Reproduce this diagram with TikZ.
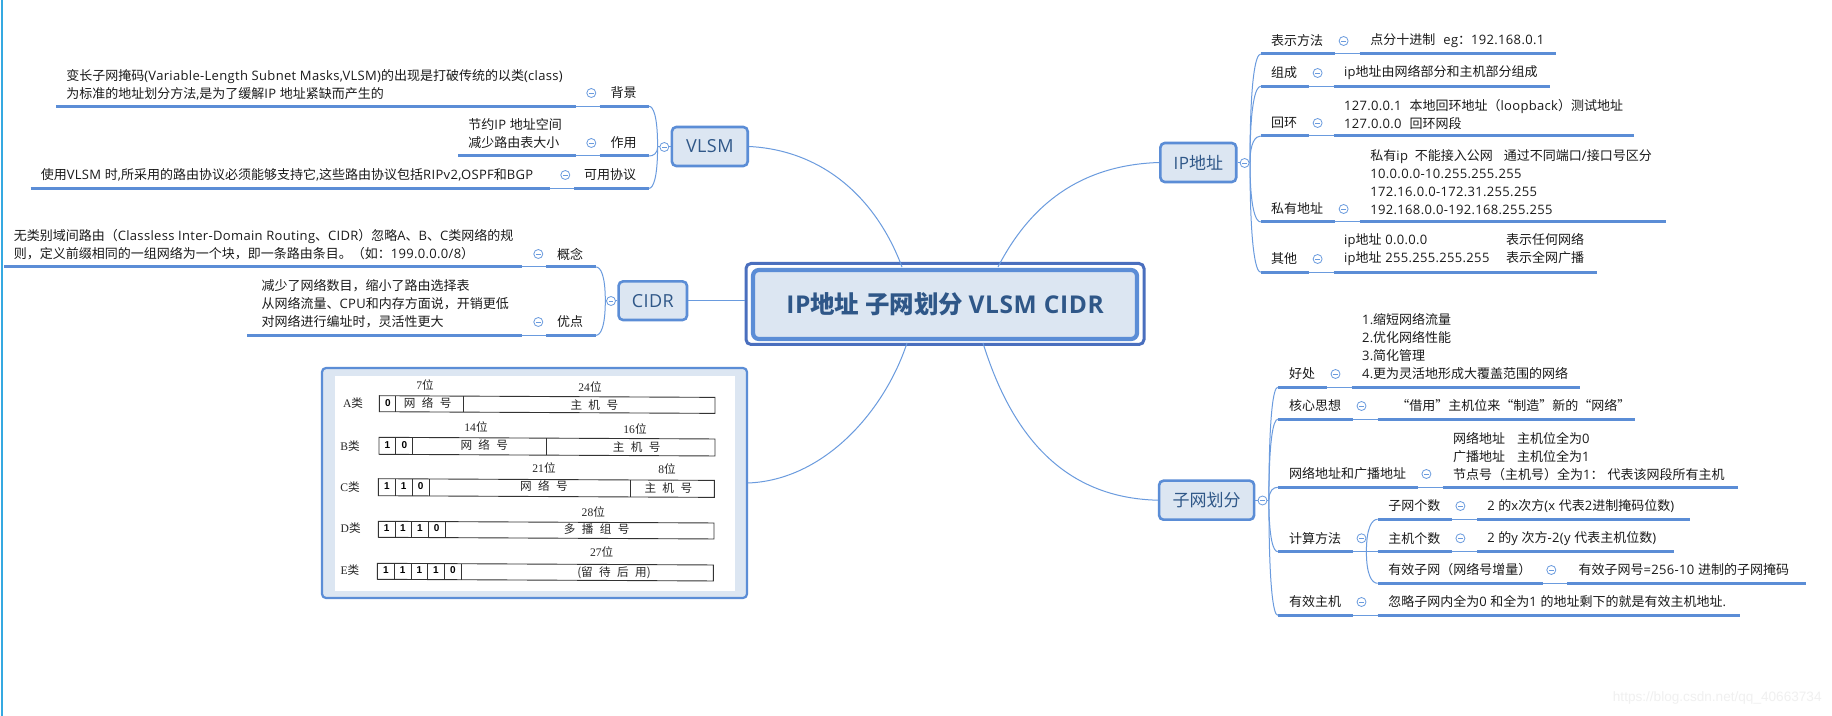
\documentclass[tikz,border=0pt]{standalone}
\usepackage{fontspec}
\setmainfont{Noto Sans CJK SC}
\newfontfamily\tnrf{Liberation Serif}
\newfontfamily\hvf{Liberation Sans}
\newfontfamily\ltf[LetterSpace=2.5]{Open Sans}
\newcommand\Lt[1]{{\ltf #1}}
\newcommand\LtB[1]{{\fontsize{9pt}{10pt}\ltf #1}}
\usetikzlibrary{calc}
\definecolor{lnblue}{HTML}{5B8DD6}
\definecolor{thinblue}{HTML}{6A9BDE}
\definecolor{fillblue}{HTML}{DCE6F2}
\definecolor{rootouter}{HTML}{4A6FBE}
\definecolor{nodetxt}{HTML}{2F5788}
\definecolor{edgeblue}{HTML}{35A9E1}
\definecolor{txtblack}{HTML}{1A1A1A}
\tikzset{
 thk/.style={draw=lnblue,line width=1.5pt},
 thn/.style={draw=thinblue,line width=0.5pt},
 txt/.style={inner sep=0pt,outer sep=0pt,align=left,text=txtblack,font=\fontsize{6.5pt}{9pt}\selectfont},
 clp/.style={circle,draw=thinblue,fill=white,line width=0.4pt,inner sep=0pt,minimum size=4.5pt,
   path picture={\draw[draw=thinblue,line width=0.4pt] ([xshift=-1.1pt]path picture bounding box.center)--([xshift=1.1pt]path picture bounding box.center);}},
 topic/.style={draw=lnblue,line width=1.3pt,fill=fillblue,rounded corners=2.2pt,inner sep=0pt,text=nodetxt,font=\fontsize{8.5pt}{10pt}\selectfont},
 tbline/.style={draw=black!80,line width=0.45pt},
 tbtx/.style={inner sep=0pt,text=black!85,font=\fontsize{5.8pt}{6pt}\selectfont},
 tbdg/.style={inner sep=0pt,text=black,font=\fontsize{5pt}{6pt}\hvf\bfseries},
}
\newcommand\UL[6]{%
 \coordinate (#1-a) at (#3,#2);\coordinate (#1-b) at (#4,#2);\coordinate (#1-c) at (#5,#2);\coordinate (#1-d) at (#6,#2);
 \draw[thk] (#1-a)--(#1-b);\draw[thn] (#1-b)--(#1-c);\draw[thk] (#1-c)--(#1-d);}
\newcommand\Spine[2]{\draw[thn] (#1) .. controls ($(#1)!0.75!(#1|-#2)$) and ($(#1|-#2)!0.5!(#2)$) .. (#2);}
\newcommand\CI[3]{\node[clp] (#1-o) at (#2,#3) {};}
\newcommand\LB[4]{\node[txt,anchor=west] (#1-l) at (#2,#3) {#4};}
\newcommand\TX[4]{\node[txt,anchor=west] (#1-t) at (#2,#3) {#4};}
\newcommand\SP{\hspace{3.2pt}}
\newcommand\TR[5]{% name,x0,top,w,h
 \begin{scope}[shift={(#2,#3)},yslant=-0.005]
 \draw[tbline] (0,0) rectangle (#4,#5);
 \foreach \d in {#1}{\draw[tbline] (\d,0)--(\d,#5);}
 \end{scope}}
\begin{document}
\begin{tikzpicture}[x=0.5pt,y=-0.5pt]
\useasboundingbox (0,0) rectangle (1832,716);
\fill[white] (0,0) rectangle (1832,716);
\fill[edgeblue] (1,0) rectangle (3,716);
\node[inner sep=0pt,anchor=east,text=black!6,font=\fontsize{6.8pt}{8pt}\hvf] (wm) at (1822,698) {https://blog.csdn.net/qq\_40663734};

% ---- central topic and main topics
\node[draw=rootouter,line width=1.5pt,fill=white,rounded corners=2.5pt,minimum width=199pt,minimum height=40.5pt,inner sep=0pt] (rootbox) at (945,304) {};
\node[draw=lnblue,line width=2.1pt,fill=fillblue,rounded corners=3pt,minimum width=192pt,minimum height=34.5pt,inner sep=0pt,text=nodetxt,font=\fontsize{12.25pt}{14pt}\selectfont\bfseries] (root) at (945,304.5) {\Lt{\bfseries IP}地址 子网划分 \Lt{\bfseries VLSM CIDR}};
\node[topic,minimum width=37.9pt,minimum height=19.5pt] (vlsm) at (709.8,146.5) {\LtB{VLSM}};
\node[topic,minimum width=34.2pt,minimum height=19.3pt] (cidr) at (652.8,300.7) {\LtB{CIDR}};
\node[topic,minimum width=37.9pt,minimum height=19.5pt] (ip) at (1198.3,162.5) {\Lt{IP}地址};
\node[topic,minimum width=47.5pt,minimum height=19.5pt] (subnet) at (1206.6,500.2) {子网划分};

% ---- picture topic
\node[draw=lnblue,line width=1.1pt,fill=fillblue,rounded corners=2pt,minimum width=212.5pt,minimum height=115pt,inner sep=0pt] (imgbox) at (534.5,483) {};
\node[fill=white,minimum width=200pt,minimum height=107.5pt,inner sep=0pt] (imgin) at (535,483.5) {};

% ---- main connectors
\draw[thn] (vlsm.east) .. controls (820,150) and (875,195) .. ($(rootbox.north)+(-43,5)$);
\draw[thn] (ip.west) .. controls (1080,165) and (1030,205) .. ($(rootbox.north)+(53,5)$);
\draw[thn] (cidr.east) -- (rootbox.west|-cidr.east);
\draw[thn] (imgbox.east) .. controls (825,480) and (885,410) .. ($(rootbox.south)+(-38,-3)$);
\draw[thn] (subnet.west) .. controls (1060,498) and (1010,430) .. ($(rootbox.south)+(38,-3)$);

% ---- VLSM branches
\coordinate (vlsm-s) at ($(vlsm.west)+(-13,0)$);
\draw[thn] (vlsm.west)--(vlsm-s);
\UL{v1}{106.3}{56}{575.5}{599.5}{649}
\UL{v2}{156}{458}{575.5}{599.5}{649}
\UL{v3}{188.3}{30.6}{549.5}{574}{649}
\Spine{vlsm-s}{v1-d}\Spine{vlsm-s}{v2-d}\Spine{vlsm-s}{v3-d}
\CI{vlsm}{664.3}{147}
\CI{v1}{591.3}{93}\CI{v2}{591.3}{143}\CI{v3}{565.3}{175}
\LB{v1}{610.7}{93}{背景}\LB{v2}{610.7}{143}{作用}\LB{v3}{584}{175}{可用协议}
\TX{v1}{66.3}{84.5}{变长子网掩码\Lt{(Variable-Length Subnet Masks,VLSM)}的出现是打破传统的以类\Lt{(class)}\\为标准的地址划分方法\Lt{,}是为了缓解\Lt{IP }地址紧缺而产生的}
\TX{v2}{468.4}{134}{节约\Lt{IP }地址空间\\减少路由表大小}
\TX{v3}{40.8}{175}{使用\Lt{VLSM }时\Lt{,}所采用的路由协议必须能够支持它\Lt{,}这些路由协议包括\Lt{RIPv2,OSPF}和\Lt{BGP}}

% ---- CIDR branches
\coordinate (cidr-s) at ($(cidr.west)+(-12,0)$);
\draw[thn] (cidr.west)--(cidr-s);
\UL{c1}{267}{4}{522.4}{546.4}{596}
\UL{c2}{335.3}{247.4}{522.4}{546.4}{596}
\Spine{cidr-s}{c1-d}\Spine{cidr-s}{c2-d}
\CI{cidr}{611}{301}
\CI{c1}{538.3}{254}\CI{c2}{538.3}{322}
\LB{c1}{557}{254}{概念}\LB{c2}{557}{322}{优点}
\TX{c1}{13.8}{245}{无类别域间路由（\Lt{Classless Inter-Domain Routing}、\Lt{CIDR}）忽略\Lt{A}、\Lt{B}、\Lt{C}类网络的规\\则，定义前缀相同的一组网络为一个块，即一条路由条目。（如：\Lt{199.0.0.0/8}）}
\TX{c2}{261.7}{304}{减少了网络数目，缩小了路由选择表\\从网络流量、\Lt{CPU}和内存方面说，开销更低\\对网络进行编址时，灵活性更大}

% ---- IP branches
\coordinate (ip-s) at ($(ip.east)+(12.5,0)$);
\draw[thn] (ip.east)--(ip-s);
\UL{i1}{54}{1260.7}{1335}{1359.7}{1556}
\UL{i2}{86.3}{1260.7}{1309}{1333.7}{1549.5}
\UL{i3}{136}{1260.7}{1309}{1333.7}{1633.7}
\UL{i4}{222}{1260.7}{1335}{1359.7}{1666.3}
\UL{i5}{272.3}{1260.7}{1309}{1333.7}{1596.5}
\Spine{ip-s}{i1-a}\Spine{ip-s}{i2-a}\Spine{ip-s}{i3-a}\Spine{ip-s}{i4-a}\Spine{ip-s}{i5-a}
\CI{ip}{1244.6}{163}
\CI{i1}{1343.6}{41}\CI{i2}{1317.6}{73}\CI{i3}{1317.6}{123}\CI{i4}{1343.6}{209}\CI{i5}{1317.6}{259}
\LB{i1}{1271}{41}{表示方法}\LB{i2}{1271}{73}{组成}\LB{i3}{1271}{123}{回环}\LB{i4}{1271}{209}{私有地址}\LB{i5}{1271}{259}{其他}
\TX{i1}{1370.4}{41}{点分十进制\hspace{4pt}\Lt{eg}：\Lt{192.168.0.1}}
\TX{i2}{1344}{73}{\Lt{ip}地址由网络部分和主机部分组成}
\TX{i3}{1344}{114}{\Lt{127.0.0.1}\hspace{4pt}本地回环地址（\Lt{loopback}）测试地址\\\Lt{127.0.0.0}\hspace{4pt}回环网段}
\TX{i4}{1370.4}{182}{私有\Lt{ip}\hspace{3.5pt}不能接入公网\hspace{5.5pt}通过不同端口\Lt{/}接口号区分\\\Lt{10.0.0.0-10.255.255.255}\\\Lt{172.16.0.0-172.31.255.255}\\\Lt{192.168.0.0-192.168.255.255}}
\TX{i5}{1344}{250}{\makebox[81pt][l]{\Lt{ip}地址\Lt{ 0.0.0.0}}表示任何网络\\\makebox[81pt][l]{\Lt{ip}地址\Lt{ 255.255.255.255}}表示全网广播}

% ---- subnet branches
\coordinate (subnet-s) at ($(subnet.east)+(13.5,0)$);
\draw[thn] (subnet.east)--(subnet-s);
\UL{s1}{387.3}{1277.7}{1327}{1351.6}{1580}
\UL{s2}{419.3}{1277.7}{1353}{1377.6}{1634.6}
\UL{s3}{487.3}{1277.7}{1418}{1442.5}{1737.5}
\UL{s4}{551.7}{1277.7}{1353}{1377.6}{1377.6}
\UL{s5}{615.3}{1277.7}{1353}{1377.6}{1740}
\Spine{subnet-s}{s1-a}\Spine{subnet-s}{s2-a}\Spine{subnet-s}{s3-a}\Spine{subnet-s}{s4-a}\Spine{subnet-s}{s5-a}
\CI{subnet}{1262.5}{500.5}
\CI{s1}{1335.5}{374}\CI{s2}{1361.5}{406}\CI{s3}{1426.4}{474}\CI{s5}{1361.5}{602}
\LB{s1}{1289}{374}{好处}\LB{s2}{1289}{406}{核心思想}\LB{s3}{1289}{474}{网络地址和广播地址}\LB{s4}{1289}{538.3}{计算方法}\LB{s5}{1289}{602}{有效主机}
\TX{s1}{1362}{347}{\Lt{1.}缩短网络流量\\\Lt{2.}优化网络性能\\\Lt{3.}简化管理\\\Lt{4.}更为灵活地形成大覆盖范围的网络}
\TX{s2}{1396.4}{406}{“借用”主机位来“制造”新的“网络”}
\TX{s3}{1453.2}{456.2}{网络地址\hspace{6pt}主机位全为\Lt{0}\\广播地址\hspace{6pt}主机位全为\Lt{1}\\节点号（主机号）全为\Lt{1}：\hspace{2pt}代表该网段所有主机}
\TX{s5}{1388.3}{602}{忽略子网内全为\Lt{0 }和全为\Lt{1 }的地址剩下的就是有效主机地址\Lt{.}}
% calculation sub-branches
\coordinate (s4-s) at (1366.4,551.7);
\UL{t1}{519.3}{1377.6}{1452.4}{1477}{1689.6}
\UL{t2}{551.7}{1377.6}{1452.4}{1477}{1674}
\UL{t3}{583.3}{1377.6}{1543.2}{1567.4}{1806}
\Spine{s4-s}{t1-a}\Spine{s4-s}{t3-a}
\CI{s4}{1361.5}{538.3}
\CI{t1}{1460.4}{506}\CI{t2}{1460.4}{538.3}\CI{t3}{1551.3}{570}
\LB{t1}{1388.3}{506}{子网个数}\LB{t2}{1388.3}{538.3}{主机个数}\LB{t3}{1388.3}{570}{有效子网（网络号增量）}
\TX{t1}{1487.3}{506}{\Lt{2 }的\Lt{x}次方\Lt{(x }代表\Lt{2}进制掩码位数\Lt{)}}
\TX{t2}{1487.3}{538.3}{\Lt{2 }的\Lt{y }次方\Lt{-2(y }代表主机位数\Lt{)}}
\TX{t3}{1578.6}{570}{有效子网号\Lt{=256-10 }进制的子网掩码}

% ---- address-class table
\TR{16.4,84}{379.3}{395.7}{335.7}{16}
\TR{16.7,33.7,167.7}{379}{437.3}{336}{17}
\TR{17.4,34,50.7,251.7}{378.3}{478.7}{336}{17}
\TR{16.7,33.4,50,67}{378.3}{521.3}{335.7}{16}
\TR{17,33.7,50.4,67,84}{377.3}{563.3}{336}{16}
\node[tbtx] (ra) at (353,402.7) {{\tnrf A}类};
\node[tbtx] (rb) at (350,446) {{\tnrf B}类};
\node[tbtx] (rc) at (350,487.3) {{\tnrf C}类};
\node[tbtx] (rd) at (350.7,528) {{\tnrf D}类};
\node[tbtx] (re) at (350,570) {{\tnrf E}类};
\node[tbtx] (n1) at (425,385) {{\tnrf 7}位};
\node[tbtx] (n2) at (590,386.7) {{\tnrf 24}位};
\node[tbtx] (n3) at (476,427) {{\tnrf 14}位};
\node[tbtx] (n4) at (635,428.7) {{\tnrf 16}位};
\node[tbtx] (n5) at (544,468.3) {{\tnrf 21}位};
\node[tbtx] (n6) at (667,469) {{\tnrf 8}位};
\node[tbtx] (n7) at (593.3,511.7) {{\tnrf 28}位};
\node[tbtx] (n8) at (601.7,552.3) {{\tnrf 27}位};
\node[tbtx] (h1) at (427.7,403.3) {网\SP 络\SP 号};
\node[tbtx] (h2) at (594.3,405) {主\SP 机\SP 号};
\node[tbtx] (h3) at (484.3,445) {网\SP 络\SP 号};
\node[tbtx] (h4) at (636.7,446.7) {主\SP 机\SP 号};
\node[tbtx] (h5) at (544,486) {网\SP 络\SP 号};
\node[tbtx] (h6) at (668.3,488) {主\SP 机\SP 号};
\node[tbtx] (h7) at (596.7,529.3) {多\SP 播\SP 组\SP 号};
\node[tbtx] (h8) at (614,572.3) {(留\SP 待\SP 后\SP 用)};
\node[tbdg] (d1) at (388,403.3) {0};
\node[tbdg] (d2) at (387.3,444.7) {1};
\node[tbdg] (d3) at (404.3,444.7) {0};
\node[tbdg] (d4) at (387,486) {1};
\node[tbdg] (d5) at (403.7,486) {1};
\node[tbdg] (d6) at (420.7,486) {0};
\node[tbdg] (d7) at (386.7,528) {1};
\node[tbdg] (d8) at (403,528) {1};
\node[tbdg] (d9) at (420,528) {1};
\node[tbdg] (d10) at (436.7,528) {0};
\node[tbdg] (d11) at (386,570) {1};
\node[tbdg] (d12) at (402.7,570) {1};
\node[tbdg] (d13) at (419.3,570) {1};
\node[tbdg] (d14) at (436,570) {1};
\node[tbdg] (d15) at (453,570) {0};
\end{tikzpicture}
\end{document}
